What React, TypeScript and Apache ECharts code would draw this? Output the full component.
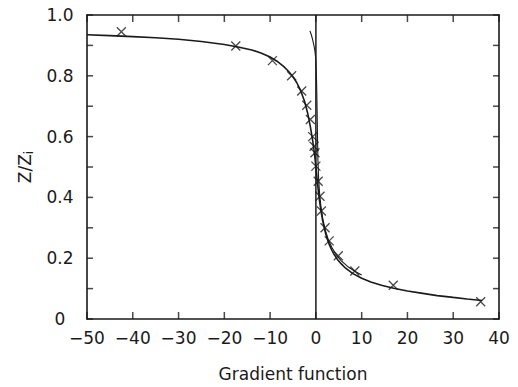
import React, { useEffect, useRef } from "react";
import * as echarts from "echarts";

const xTickValues = [-50, -40, -30, -20, -10, 0, 10, 20, 30, 40];
const yTickValues = [0, 0.1, 0.2, 0.3, 0.4, 0.5, 0.6, 0.7, 0.8, 0.9, 1.0];
const yLabelValues = [0, 0.2, 0.4, 0.6, 0.8, 1.0];

const fittedCurve: [number, number][] = [
  [-50, 0.935], [-45, 0.932], [-40, 0.929], [-35, 0.925], [-30, 0.92], [-25, 0.913],
  [-20, 0.903], [-17, 0.895], [-14, 0.885], [-12, 0.875], [-10, 0.862], [-8.5, 0.848],
  [-7, 0.83], [-6, 0.815], [-5, 0.797], [-4.2, 0.778], [-3.5, 0.757], [-3, 0.738],
  [-2.5, 0.717], [-2.1, 0.695], [-1.8, 0.677], [-1.5, 0.655], [-1.2, 0.632], [-0.9, 0.605],
  [-0.7, 0.587], [-0.5, 0.565], [-0.3, 0.542], [-0.15, 0.522], [0, 0.5], [0.15, 0.478],
  [0.3, 0.455], [0.45, 0.433], [0.6, 0.412], [0.8, 0.388], [1, 0.367], [1.25, 0.343],
  [1.5, 0.322], [1.85, 0.298], [2.2, 0.277], [2.6, 0.258], [3, 0.242], [3.5, 0.226],
  [4, 0.212], [4.7, 0.196], [5.5, 0.182], [6.5, 0.167], [8, 0.15], [10, 0.134],
  [12, 0.122], [14.5, 0.11], [17, 0.101], [20, 0.092], [23, 0.085], [26.5, 0.077],
  [30, 0.071], [33, 0.066], [36.3, 0.061],
];

const secondCurve: [number, number][] = [
  [-1.3, 0.948], [-1.0, 0.935], [-0.7, 0.918], [-0.4, 0.898], [-0.2, 0.88], [0, 0.85],
  [0.15, 0.78], [0.25, 0.7], [0.35, 0.6], [0.45, 0.52], [0.6, 0.46], [0.8, 0.415],
  [1.1, 0.37], [1.5, 0.33], [2.0, 0.295], [2.7, 0.262], [3.5, 0.235], [4.5, 0.21],
  [5.5, 0.192], [7, 0.172], [8.5, 0.157], [10, 0.145],
];

const observed: [number, number][] = [
  [-42.5, 0.945], [-17.5, 0.898], [-9.5, 0.85], [-5.3, 0.8], [-3.1, 0.75], [-2.0, 0.703],
  [-1.2, 0.656], [-0.7, 0.6], [-0.4, 0.568], [-0.2, 0.547], [0, 0.503], [0.5, 0.453],
  [0.9, 0.404], [1.2, 0.355], [2.0, 0.3], [2.9, 0.257], [4.9, 0.208], [8.5, 0.158],
  [16.9, 0.111], [36.0, 0.057],
];

const zeroLine: [number, number][] = [[0, 0], [0, 1]];

const INK = "#1a1a1a";
const FONT = "DejaVu Sans";

export default function App() {
  const ref = useRef<HTMLDivElement>(null);
  useEffect(() => {
    if (!ref.current) return;
    const chart = echarts.init(ref.current, undefined, { renderer: "svg" });
    const xMin = xTickValues[0];
    const xMax = xTickValues[xTickValues.length - 1];
    const yMin = yTickValues[0];
    const yMax = yTickValues[yTickValues.length - 1];
    const axisLine = () => ({ show: true, onZero: false, lineStyle: { color: INK, width: 1.6 } });
    const xFmt = (v: number) => (v < 0 ? "\u2212" + Math.abs(v) : String(v));
    const yFmt = (v: number) => {
      const hit = yLabelValues.find((l) => Math.abs(l - v) < 1e-6);
      if (hit === undefined) return "";
      return hit === 0 ? "0" : hit.toFixed(1);
    };
    // inward tick marks, drawn as small rect symbols placed on the axes through the scales
    const tickSeries = (data: number[][], size: number[], offset: number[]) => ({
      type: "scatter",
      data,
      symbol: "rect",
      symbolSize: size,
      symbolOffset: offset,
      clip: false,
      silent: true,
      z: 6,
      itemStyle: { color: INK },
    });
    chart.setOption({
      animation: false,
      backgroundColor: "#ffffff",
      grid: { left: 87, right: 19, top: 15, bottom: 67 },
      xAxis: [
        {
          type: "value", min: xMin, max: xMax, interval: 10,
          position: "bottom", axisLine: axisLine(), axisTick: { show: false }, splitLine: { show: false },
          axisLabel: { formatter: xFmt, fontSize: 17, fontFamily: FONT, color: INK, margin: 10 },
          name: "Gradient function", nameLocation: "middle", nameGap: 46,
          nameTextStyle: { fontSize: 17, fontFamily: FONT, color: INK },
        },
        {
          type: "value", min: xMin, max: xMax, interval: 10,
          position: "top", axisLine: axisLine(), axisTick: { show: false }, splitLine: { show: false },
          axisLabel: { show: false },
        },
      ],
      yAxis: [
        {
          type: "value", min: yMin, max: yMax, interval: 0.1,
          position: "left", axisLine: axisLine(), axisTick: { show: false }, splitLine: { show: false },
          axisLabel: { formatter: yFmt, fontSize: 17, fontFamily: FONT, color: INK, margin: 27, align: "center" },
          name: "Z/Z{sub|i}", nameLocation: "middle", nameGap: 52,
          nameTextStyle: {
            fontSize: 17, fontFamily: FONT, color: INK,
            rich: { sub: { fontSize: 12, fontFamily: FONT, color: INK, padding: [8, 0, 0, 0] } },
          },
        },
        {
          type: "value", min: yMin, max: yMax, interval: 0.1,
          position: "right", axisLine: axisLine(), axisTick: { show: false }, splitLine: { show: false },
          axisLabel: { show: false },
        },
      ],
      series: [
        {
          type: "line", data: zeroLine, showSymbol: false, silent: true,
          lineStyle: { color: INK, width: 1.5 },
        },
        {
          type: "line", data: secondCurve, showSymbol: false, smooth: false, silent: true,
          lineStyle: { color: INK, width: 1.1 },
        },
        {
          type: "line", data: fittedCurve, showSymbol: false, smooth: false,
          silent: true, lineStyle: { color: INK, width: 1.6 },
        },
        {
          type: "scatter", data: observed, symbol: "path://M0,0L10,10M10,0L0,10", symbolSize: 9,
          itemStyle: { color: "none", borderColor: INK, borderWidth: 1.3 },
        },
        tickSeries(xTickValues.map((v) => [v, yMin]), [1.5, 7], [0, -3.5]),
        tickSeries(xTickValues.map((v) => [v, yMax]), [1.5, 7], [0, 3.5]),
        tickSeries(yTickValues.map((v) => [xMin, v]), [6, 1.5], [3, 0]),
        tickSeries(yTickValues.map((v) => [xMax, v]), [6, 1.5], [-3, 0]),
      ],
    });
    return () => chart.dispose();
  }, []);
  return (
    <div
      ref={ref}
      style={{ position: "absolute", left: 0, top: 0, width: 518, height: 387, background: "#fff" }}
    />
  );
}
